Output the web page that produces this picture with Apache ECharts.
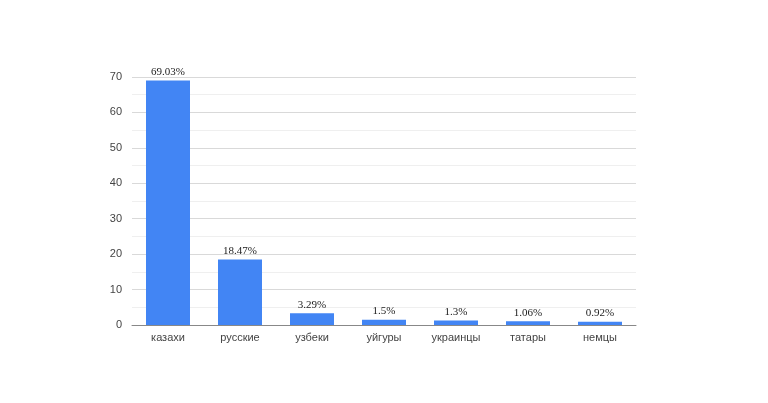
<!DOCTYPE html>
<html>
<head>
<meta charset="utf-8">
<script src="https://cdn.jsdelivr.net/npm/echarts@6/dist/echarts.min.js"></script>
<style>
  html, body { margin: 0; padding: 0; background: #fff; }
  #chart { width: 768px; height: 403px; }
</style>
</head>
<body>
<div id="chart"></div>
<script>
const categories = ['казахи', 'русские', 'узбеки', 'уйгуры', 'украинцы', 'татары', 'немцы'];
const shares = [69.03, 18.47, 3.29, 1.5, 1.3, 1.06, 0.92];
const shareLabels = ['69.03%', '18.47%', '3.29%', '1.5%', '1.3%', '1.06%', '0.92%'];

const chart = echarts.init(document.getElementById('chart'));
chart.setOption({
    animation: false,
    grid: { left: 132, right: 132, top: 77, bottom: 78, containLabel: false },
    xAxis: {
        type: 'category',
        data: categories,
        axisTick: { show: false },
        axisLine: { lineStyle: { color: '#888', width: 1 } },
        axisLabel: { color: '#444', fontSize: 11, fontFamily: 'Arial, Liberation Sans, sans-serif', margin: 7 },
    },
    yAxis: {
        type: 'value',
        min: 0, max: 70, interval: 10,
        axisLine: { show: false },
        axisTick: { show: false },
        axisLabel: { color: '#444', fontSize: 11, fontFamily: 'Arial, Liberation Sans, sans-serif', margin: 10 },
        splitLine: { lineStyle: { color: '#d9d9d9', width: 1 } },
        minorTick: { show: false, splitNumber: 2 },
        minorSplitLine: { show: true, lineStyle: { color: '#efefef', width: 1 } },
    },
    series: [{
        type: 'bar',
        data: shares,
        barWidth: 44,
        itemStyle: { color: '#4285f4' },
        label: {
            show: true,
            position: 'top',
            distance: 3,
            color: '#222',
            fontSize: 11,
            fontFamily: 'Liberation Serif, Times New Roman, serif',
            formatter: p => shareLabels[p.dataIndex],
        },
    }],
});
</script>
</body>
</html>
